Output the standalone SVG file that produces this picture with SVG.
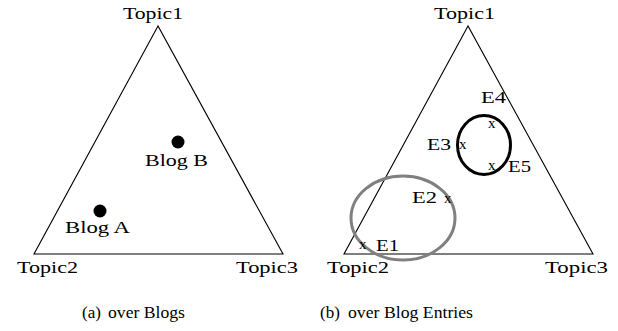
<svg xmlns="http://www.w3.org/2000/svg" width="618" height="331" viewBox="0 0 618 331">
<style>
.tri{fill:none;stroke:#000;stroke-width:1.1}
.lbl{font-family:"Liberation Serif",serif;font-size:17px;fill:#000}
.x{font-family:"Liberation Serif",serif;font-size:15px;fill:#000}
.cap{font-family:"Liberation Serif",serif;font-size:17px;fill:#000}
</style>
<rect width="618" height="331" fill="#fff"/>
<g id="panel-a">
  <g id="triangle-a"><polygon class="tri" points="158,26 34,254 283,254"/></g>
  <g id="topic1-a"><text class="lbl" x="123" y="19" textLength="60" lengthAdjust="spacingAndGlyphs">Topic1</text></g>
  <g id="topic2-a"><text class="lbl" x="17" y="273" textLength="61" lengthAdjust="spacingAndGlyphs">Topic2</text></g>
  <g id="topic3-a"><text class="lbl" x="236" y="273" textLength="62" lengthAdjust="spacingAndGlyphs">Topic3</text></g>
  <g id="blogB"><circle cx="178" cy="142" r="6.5" fill="#000"/><text class="lbl" x="145" y="166" textLength="63" lengthAdjust="spacingAndGlyphs">Blog B</text></g>
  <g id="blogA"><circle cx="100" cy="211" r="6.5" fill="#000"/><text class="lbl" x="65" y="233" textLength="65" lengthAdjust="spacingAndGlyphs">Blog A</text></g>
</g>
<g id="panel-b">
  <g id="triangle-b"><polygon class="tri" points="468,26 344,254 593,254"/></g>
  <g id="topic1-b"><text class="lbl" x="434" y="19" textLength="61" lengthAdjust="spacingAndGlyphs">Topic1</text></g>
  <g id="topic2-b"><text class="lbl" x="327" y="273" textLength="62" lengthAdjust="spacingAndGlyphs">Topic2</text></g>
  <g id="topic3-b"><text class="lbl" x="545" y="273" textLength="63" lengthAdjust="spacingAndGlyphs">Topic3</text></g>
  <g id="cluster-gray"><ellipse cx="403" cy="218" rx="52" ry="42" fill="none" stroke="#808080" stroke-width="3"/></g>
  <g id="cluster-black"><ellipse cx="484" cy="145" rx="26.5" ry="29.5" fill="none" stroke="#000" stroke-width="3"/></g>
  <g id="E1"><text class="x" x="359" y="249">x</text><text class="lbl" x="376" y="251" textLength="23" lengthAdjust="spacingAndGlyphs">E1</text></g>
  <g id="E2"><text class="x" x="444" y="203">x</text><text class="lbl" x="412" y="203" textLength="25" lengthAdjust="spacingAndGlyphs">E2</text></g>
  <g id="E3"><text class="x" x="459" y="149">x</text><text class="lbl" x="427" y="150" textLength="24" lengthAdjust="spacingAndGlyphs">E3</text></g>
  <g id="E4"><text class="x" x="488" y="128">x</text><text class="lbl" x="481" y="103" textLength="25" lengthAdjust="spacingAndGlyphs">E4</text></g>
  <g id="E5"><text class="x" x="488" y="170">x</text><text class="lbl" x="508" y="172" textLength="23" lengthAdjust="spacingAndGlyphs">E5</text></g>
</g>
<g id="captions">
  <text class="cap" x="82" y="318">(a)</text><text class="cap" x="108" y="318" textLength="77" lengthAdjust="spacingAndGlyphs">over Blogs</text>
  <text class="cap" x="320" y="318">(b)</text><text class="cap" x="348" y="318" textLength="125" lengthAdjust="spacingAndGlyphs">over Blog Entries</text>
</g>
<g id="connectors"></g>
</svg>
